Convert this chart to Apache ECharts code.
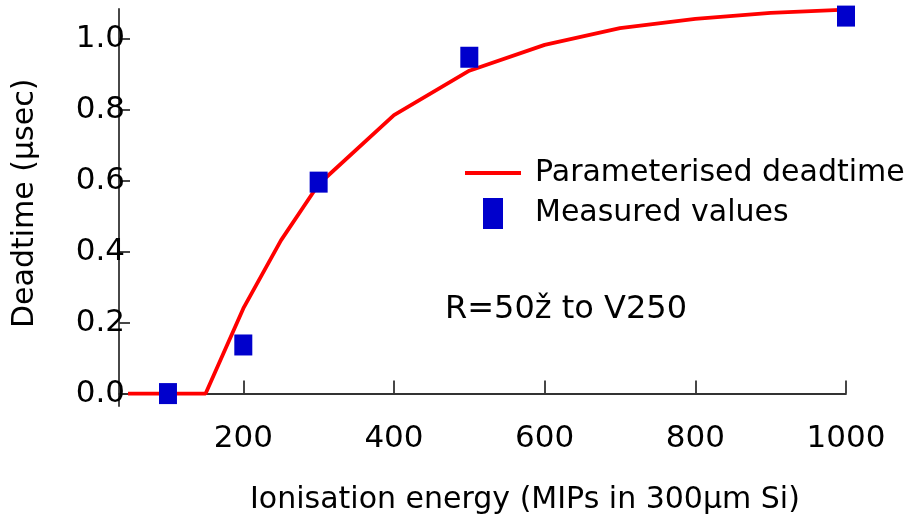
<!DOCTYPE html>
<html>
<head>
<meta charset="utf-8">
<script src="https://cdn.jsdelivr.net/npm/echarts@6/dist/echarts.min.js"></script>
<style>
  html, body { margin: 0; padding: 0; background: #fff; }
  #chart { width: 920px; height: 525px; }
</style>
</head>
<body>
<div id="chart"></div>
<script>
// Parameterised deadtime curve (energy in MIPs, deadtime in microseconds)
const curveEnergy = [47, 150, 200, 250, 300, 400, 500, 600, 700, 800, 900, 1000];
const curveDeadtime = [0, 0, 0.24, 0.432, 0.59, 0.785, 0.91, 0.983, 1.03, 1.056, 1.073, 1.082];

// Measured deadtime points
const measEnergy = [100, 200, 300, 500, 1000];
const measDeadtime = [0, 0.137, 0.596, 0.948, 1.064];

// Tick labels
const xTicks = [200, 400, 600, 800, 1000];
const yTicks = [0, 0.2, 0.4, 0.6, 0.8, 1.0];

const FONT = 'DejaVu Sans';
const AXIS_COLOR = '#333';

const chart = echarts.init(document.getElementById('chart'), null, { renderer: 'canvas' });

chart.setOption({
  animation: false,
  backgroundColor: '#fff',
  grid: { left: 119, right: 74, top: 9, bottom: 119, containLabel: false },
  xAxis: {
    type: 'value',
    min: 35,
    max: 1000,
    splitLine: { show: false },
    axisLine: { show: true, lineStyle: { color: AXIS_COLOR, width: 1.8 } },
    axisTick: { show: true, inside: true, length: 13, customValues: xTicks,
                lineStyle: { color: AXIS_COLOR, width: 1.8 } },
    axisLabel: { customValues: xTicks, margin: 17, color: '#000',
                 fontFamily: FONT, fontSize: 31,
                 formatter: v => String(v) }
  },
  yAxis: {
    type: 'value',
    min: -0.035,
    max: 1.084,
    splitLine: { show: false },
    axisLine: { show: true, lineStyle: { color: AXIS_COLOR, width: 1.8 } },
    axisTick: { show: true, inside: true, length: 11, customValues: yTicks,
                lineStyle: { color: AXIS_COLOR, width: 1.8 } },
    axisLabel: { customValues: yTicks, margin: -6, color: '#000',
                 fontFamily: FONT, fontSize: 31,
                 formatter: v => v.toFixed(1) }
  },
  legend: [
    {
      data: [{ name: 'Parameterised deadtime', icon: 'rect' }],
      left: 465, top: 158, padding: 0,
      itemWidth: 56, itemHeight: 4,
      textStyle: { fontFamily: FONT, fontSize: 30, color: '#000', padding: [0, 0, 0, 9] }
    },
    {
      data: [{ name: 'Measured values', icon: 'rect' }],
      left: 483, top: 198, padding: 0,
      itemWidth: 20, itemHeight: 31,
      textStyle: { fontFamily: FONT, fontSize: 30, color: '#000', padding: [4, 0, 0, 27] }
    }
  ],
  graphic: [
    {
      type: 'text', left: 250, top: 485,
      style: { text: 'Ionisation energy (MIPs in 300μm Si)', font: '30px "DejaVu Sans"', fill: '#000' }
    },
    {
      type: 'text', x: 10, y: 328, rotation: Math.PI / 2,
      style: { text: 'Deadtime (μsec)', font: '30px "DejaVu Sans"', fill: '#000' }
    },
    {
      type: 'text', left: 445, top: 294,
      style: { text: 'R=50ž to V250', font: '32px "DejaVu Sans"', fill: '#000' }
    }
  ],
  series: [
    {
      name: 'Parameterised deadtime',
      type: 'line',
      clip: false,
      symbol: 'none',
      lineStyle: { color: '#ff0000', width: 3.8 },
      itemStyle: { color: '#ff0000' },
      data: curveEnergy.map((e, i) => [e, curveDeadtime[i]]),
      z: 2
    },
    {
      name: 'Measured values',
      type: 'scatter',
      clip: false,
      symbol: 'rect',
      symbolSize: [18, 21],
      itemStyle: { color: '#0000cc', opacity: 1 },
      data: measEnergy.map((e, i) => [e, measDeadtime[i]]),
      z: 3
    }
  ]
});
</script>
</body>
</html>
